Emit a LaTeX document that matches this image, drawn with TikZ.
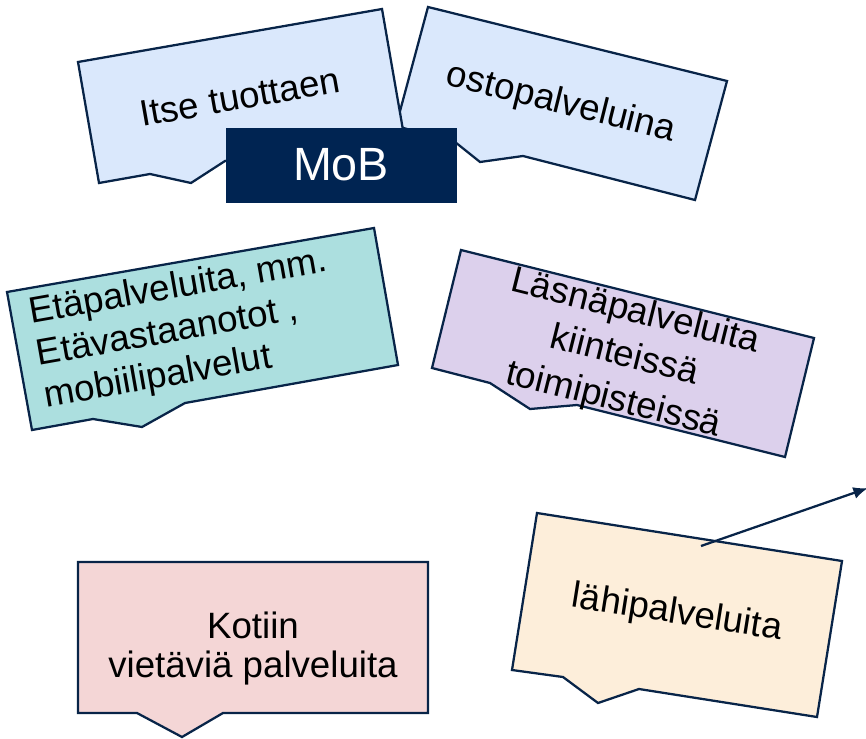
\documentclass[tikz,border=0pt]{standalone}
\usepackage{fontspec}
\setmainfont{Liberation Sans}
\usepackage{tikz}
\usetikzlibrary{arrows.meta}
\definecolor{mobnavy}{RGB}{0,36,82}
\definecolor{lineblue}{RGB}{8,36,72}
\definecolor{paleblue}{RGB}{218,232,252}
\definecolor{paleteal}{RGB}{172,223,223}
\definecolor{palelilac}{RGB}{220,208,236}
\definecolor{palesand}{RGB}{253,238,218}
\definecolor{palerose}{RGB}{244,214,214}

\begin{document}
\begin{tikzpicture}[x=0.75pt,y=-0.75pt,
    callout/.style={draw=lineblue,line width=1.7pt,line join=miter},
    boxtext/.style={font=\fontsize{27.5}{26.3}\selectfont,inner sep=0pt,align=center}]
      \useasboundingbox (0,0) rectangle (866,738);
      \draw[callout,fill=paleblue] (428,7) -- (727,81) -- (695,200) -- (523,156)
        -- (480,162) -- (455,142) -- (396,126) -- cycle;
      \draw[callout,fill=paleblue] (78,62) -- (382,9) -- (403,130) -- (225,161)
        -- (191,183) -- (150,174) -- (99,183) -- cycle;
      \draw[callout,fill=paleteal] (7,292) -- (374,228) -- (398,365) -- (185,403)
        -- (142,427) -- (93,419) -- (32,430) -- cycle;
      \draw[callout,fill=palelilac] (461,250) -- (814,338) -- (785,457) -- (577,405)
        -- (530,409) -- (490,383) -- (432,368) -- cycle;
      \draw[callout,fill=palesand] (537,513) -- (842,561) -- (817,717) -- (639,689)
        -- (598,703) -- (563,677) -- (512,670) -- cycle;
      \draw[callout,fill=palerose] (78,562) -- (428,562) -- (428,713) -- (223,713)
        -- (182,737) -- (137,713) -- (78,713) -- cycle;

      \node (osto) [boxtext,rotate=-14] at (561,104) {ostopalveluina};
      \node (itse) [boxtext,rotate=10] at (240,97) {Itse tuottaen};
      \node (mob) [fill=mobnavy,draw=mobnavy,text=white,inner sep=0pt,
        minimum width=172.5pt,minimum height=55.5pt,
        font=\fontsize{35}{40}\selectfont] at (341,165) {MoB};
      \node (eta) [boxtext,align=left,rotate=10,font=\fontsize{27.5}{32}\selectfont]
        at (186,331) {\strut Etäpalveluita, mm.\\\strut Etävastaanotot ,\\\strut mobiilipalvelut};
      \node (lasna) [boxtext,rotate=-14,font=\fontsize{27.5}{34}\selectfont]
        at (624,357) {\strut Läsnäpalveluita\\\strut kiinteissä\\\strut toimipisteissä};
      \node (lahi) [boxtext,rotate=-9] at (677,614) {lähipalveluita};
      \node (kotiin) [boxtext] at (253,650) {\strut Kotiin\\\strut vietäviä palveluita};

      \coordinate (lahitail) at (701,546);
      \coordinate (lahihead) at (868,488);
      \draw[lineblue,line width=1.7pt,-{Latex[length=11pt,width=9pt]}] (lahitail) -- (lahihead);
    \end{tikzpicture}
\end{document}
